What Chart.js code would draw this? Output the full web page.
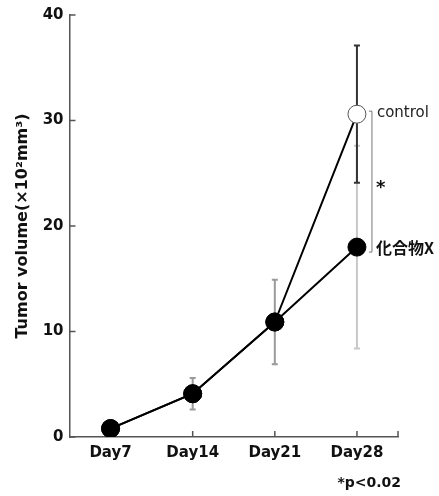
<!DOCTYPE html>
<html>
<head>
<meta charset="utf-8">
<script src="https://cdn.jsdelivr.net/npm/chart.js@4"></script>
<style>
  html, body { margin: 0; padding: 0; background: #fff; }
  #wrap { width: 439px; height: 496px; }
</style>
</head>
<body>
<div id="wrap"><canvas id="c"></canvas></div>
<script>
const days = ["Day7", "Day14", "Day21", "Day28"];
const controlMean = [0.8, 4.1, 10.9, 30.6];
const controlErr = [null, null, null, 6.5];
const compoundMean = [0.8, 4.1, 10.9, 18.0];
const compoundErr = [null, 1.5, 4.0, 9.6];
const yTicks = [0, 10, 20, 30, 40];

const FONT = "'DejaVu Sans', Verdana, sans-serif";

// error bars, drawn under the markers
const errorBars = {
  id: "errorBars",
  beforeDatasetsDraw(chart) {
    const { ctx, scales: { x, y } } = chart;
    const bar = (i, mean, err, color) => {
      if (err == null) return;
      const px = x.getPixelForValue(i);
      const top = y.getPixelForValue(mean + err);
      const bot = y.getPixelForValue(mean - err);
      ctx.strokeStyle = color;
      ctx.lineWidth = 2;
      ctx.beginPath();
      ctx.moveTo(px, top); ctx.lineTo(px, bot);
      ctx.moveTo(px - 3, top); ctx.lineTo(px + 3, top);
      ctx.moveTo(px - 3, bot); ctx.lineTo(px + 3, bot);
      ctx.stroke();
    };
    ctx.save();
    compoundErr.forEach((e, i) => bar(i, compoundMean[i], e, i === 3 ? "#c8c8c8" : "#9a9a9a"));
    controlErr.forEach((e, i) => bar(i, controlMean[i], e, "#333"));
    ctx.restore();
  }
};

// inward tick marks + bracket and labels
const extras = {
  id: "extras",
  beforeDatasetsDraw(chart) {
    const { ctx, chartArea: a, scales: { x, y } } = chart;
    ctx.save();
    ctx.strokeStyle = "#555";
    ctx.lineWidth = 1.5;
    ctx.beginPath();
    yTicks.forEach(v => {
      const py = y.getPixelForValue(v);
      ctx.moveTo(a.left, py); ctx.lineTo(a.left + 6, py);
    });
    days.forEach((d, i) => {
      const px = x.getPixelForValue(i);
      ctx.moveTo(px, a.bottom); ctx.lineTo(px, a.bottom - 6);
    });
    ctx.moveTo(a.right, a.bottom); ctx.lineTo(a.right, a.bottom - 6);
    ctx.stroke();
    ctx.restore();
  },
  afterDatasetsDraw(chart) {
    const { ctx, chartArea: a, scales: { x, y } } = chart;
    const last = days.length - 1;
    const bx = x.getPixelForValue(last) + 15;
    const yc = y.getPixelForValue(controlMean[last]);
    const yx = y.getPixelForValue(compoundMean[last]);
    ctx.save();
    ctx.strokeStyle = "#777";
    ctx.lineWidth = 1;
    ctx.beginPath();
    ctx.moveTo(bx - 3, yc - 3); ctx.lineTo(bx, yc - 3);
    ctx.lineTo(bx, yx + 5); ctx.lineTo(bx - 3, yx + 5);
    ctx.stroke();

    ctx.textBaseline = "middle";
    ctx.textAlign = "left";
    ctx.fillStyle = "#222";
    ctx.font = "15px " + FONT;
    ctx.fillText("control", bx + 5, yc - 1);
    ctx.fillStyle = "#111";
    ctx.font = "bold 16px 'Noto Sans CJK JP', " + FONT;
    ctx.fillText("化合物X", bx + 4, yx + 1);
    ctx.font = "bold 18px " + FONT;
    ctx.fillText("*", bx + 4, (yc + yx) / 2 + 8);
    ctx.textAlign = "right";
    ctx.font = "bold 14px " + FONT;
    ctx.fillText("*p<0.02", a.right + 3, 483);
    ctx.restore();
  }
};

new Chart(document.getElementById("c"), {
  type: "line",
  data: {
    labels: days,
    datasets: [
      {
        label: "化合物X",
        data: compoundMean,
        borderColor: "#000",
        borderWidth: 2,
        pointRadius: 9,
        pointBackgroundColor: "#000",
        pointBorderColor: "#000",
        pointBorderWidth: 1,
        tension: 0,
        order: 0
      },
      {
        label: "control",
        data: controlMean,
        borderColor: "#000",
        borderWidth: 2,
        pointRadius: 9,
        pointBackgroundColor: ["#000", "#000", "#000", "#fff"],
        pointBorderColor: ["#000", "#000", "#000", "#555"],
        pointBorderWidth: 1,
        tension: 0,
        order: 1
      }
    ]
  },
  plugins: [errorBars, extras],
  options: {
    responsive: true,
    maintainAspectRatio: false,
    animation: false,
    events: [],
    layout: { padding: { top: 15, right: 41, bottom: 0, left: 0 } },
    plugins: {
      legend: { display: false },
      tooltip: { enabled: false }
    },
    scales: {
      x: {
        offset: true,
        grid: { display: false, drawTicks: false },
        border: { display: true, color: "#555", width: 1.5 },
        ticks: {
          padding: 7,
          color: "#111",
          font: { family: FONT, size: 15, weight: "bold" }
        },
        afterFit: s => { s.height = 59; }
      },
      y: {
        min: 0,
        max: 40,
        afterBuildTicks: s => { s.ticks = yTicks.map(v => ({ value: v })); },
        grid: { display: false, drawTicks: false },
        border: { display: true, color: "#555", width: 1.5 },
        ticks: {
          padding: 6,
          color: "#111",
          font: { family: FONT, size: 15, weight: "bold" }
        },
        title: {
          display: true,
          text: "Tumor volume(×10²mm³)",
          color: "#111",
          padding: { top: 13, bottom: 0 },
          font: { family: FONT, size: 16, weight: "bold" }
        },
        afterFit: s => { s.width = 69.5; }
      }
    }
  }
});
</script>
</body>
</html>
